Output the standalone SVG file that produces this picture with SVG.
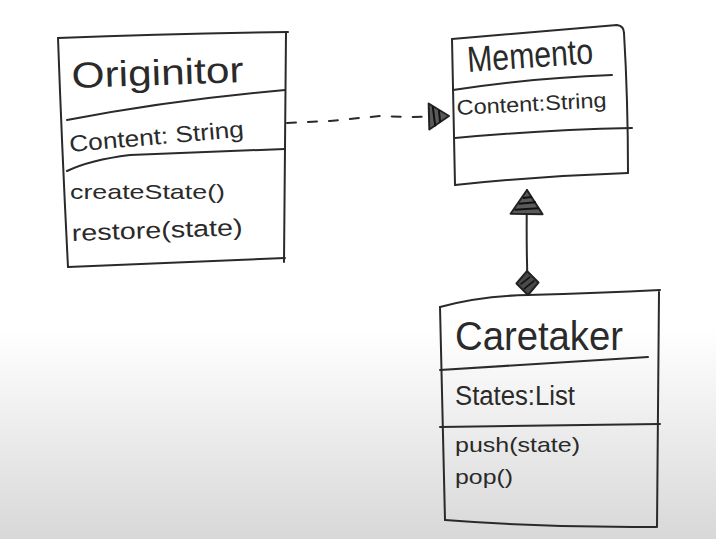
<svg xmlns="http://www.w3.org/2000/svg" width="716" height="539" viewBox="0 0 716 539">
<defs>
<linearGradient id="bg" x1="0" y1="0" x2="0" y2="1">
<stop offset="0" stop-color="#ffffff"/>
<stop offset="0.61" stop-color="#ffffff"/>
<stop offset="1" stop-color="#d8d8d8"/>
</linearGradient>
<marker id="tri" viewBox="-2 -2 28 36" refX="24" refY="16" markerWidth="28" markerHeight="36" markerUnits="userSpaceOnUse" orient="auto">
<path d="M0,0 L24,16 L0,32 Z" fill="#5a5a5a" stroke="#222" stroke-width="2" stroke-linejoin="round"/>
<path d="M4,4 L6,28 M10,8 L12,25 M16,12 L17,21" stroke="#111" stroke-width="2" fill="none"/>
</marker>
<marker id="smalltri" viewBox="-2 -2 24 30" refX="20" refY="13" markerWidth="24" markerHeight="30" markerUnits="userSpaceOnUse" orient="auto">
<path d="M0,0 L20,13 L0,26 Z" fill="#5a5a5a" stroke="#222" stroke-width="2" stroke-linejoin="round"/>
<path d="M4,3 L6,23 M10,7 L11,19" stroke="#111" stroke-width="2" fill="none"/>
</marker>
<marker id="diamond" viewBox="-2 -2 28 26" refX="0" refY="11" markerWidth="28" markerHeight="26" markerUnits="userSpaceOnUse" orient="auto">
<path d="M0,11 L12,0 L24,11 L12,22 Z" fill="#4a4a4a" stroke="#222" stroke-width="2" stroke-linejoin="round"/>
<path d="M6,7 L14,18 M11,4 L18,14" stroke="#111" stroke-width="1.5" fill="none"/>
</marker>
</defs>
<style>
.ln{fill:none;stroke:#2a2a2a;stroke-width:2;stroke-linecap:round;stroke-linejoin:round}
.t{font-family:"Liberation Sans","DejaVu Sans",sans-serif;fill:#2a2a2a}
.title{font-size:36px}
.attr{font-size:23px}
.op{font-size:21px}
</style>
<rect x="0" y="0" width="716" height="539" fill="url(#bg)"/>

<g id="originator">
<path class="ln" d="M58,38 Q170,34 288,32"/>
<path class="ln" d="M286,32 L284,262"/>
<path class="ln" d="M68,267 Q180,262 285,258"/>
<path class="ln" d="M58,38 Q62,150 68,267"/>
<path class="ln" d="M67,120 Q170,100 285,90"/>
<path class="ln" d="M67,171 Q90,160 130,155 L285,149"/>
<text class="t title" x="72" y="88" textLength="172" lengthAdjust="spacingAndGlyphs" transform="rotate(-2 72 88)">Originitor</text>
<text class="t attr" x="70" y="152" textLength="175" lengthAdjust="spacingAndGlyphs" transform="rotate(-5 70 152)">Content: String</text>
<text class="t op" x="70" y="199" textLength="155" lengthAdjust="spacingAndGlyphs">createState()</text>
<text class="t attr" x="72" y="241" textLength="171" lengthAdjust="spacingAndGlyphs" transform="rotate(-2 72 241)">restore(state)</text>
</g>

<g id="memento">
<path class="ln" d="M452,39 L617,25 Q624,26 624,33"/>
<path class="ln" d="M624,33 Q628,100 628,173"/>
<path class="ln" d="M455,185 Q540,176 628,173"/>
<path class="ln" d="M452,39 L455,185"/>
<path class="ln" d="M453,90 Q530,78 612,75"/>
<path class="ln" d="M455,138 Q540,130 632,128"/>
<text class="t title" x="468" y="72" textLength="126" lengthAdjust="spacingAndGlyphs" transform="rotate(-4 468 72)">Memento</text>
<text class="t op" x="457" y="115" textLength="150" lengthAdjust="spacingAndGlyphs" transform="rotate(-3 457 115)">Content:String</text>
</g>

<g id="caretaker">
<path class="ln" d="M440,307 Q480,296 528,295 Q600,293 660,290"/>
<path class="ln" d="M440,307 L445,520"/>
<path class="ln" d="M445,520 Q550,528 656,527"/>
<path class="ln" d="M659,292 L657,527"/>
<path class="ln" d="M440,370 Q540,364 648,357"/>
<path class="ln" d="M440,427 L660,424"/>
<text class="t" font-size="40" x="455" y="350" textLength="168" lengthAdjust="spacingAndGlyphs">Caretaker</text>
<text class="t" font-size="27" x="455" y="405" textLength="120" lengthAdjust="spacingAndGlyphs">States:List</text>
<text class="t op" x="455" y="452" textLength="125" lengthAdjust="spacingAndGlyphs">push(state)</text>
<text class="t op" x="455" y="484" textLength="58" lengthAdjust="spacingAndGlyphs">pop()</text>
</g>

<g id="connectors">
<path class="ln" d="M287,123 L330,121 L380,116 L410,117 L449,116" stroke-dasharray="9 12" marker-end="url(#smalltri)"/>
<path class="ln" d="M528,295 Q526,250 527,190" marker-start="url(#diamond)" marker-end="url(#tri)"/>
</g>
</svg>
